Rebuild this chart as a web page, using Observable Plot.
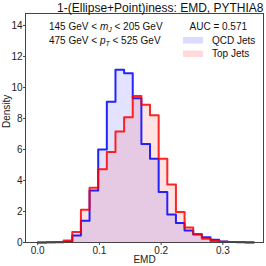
<!DOCTYPE html>
<html><head><meta charset="utf-8">
<script src="https://cdn.jsdelivr.net/npm/d3@7"></script>
<script src="https://cdn.jsdelivr.net/npm/@observablehq/plot@0.6"></script>
<style>body{margin:0;background:#fff}</style>
</head><body><div id="chart"></div>
<script>
const binEdges = [0.000,0.014,0.028,0.042,0.056,0.070,0.084,0.098,0.112,0.126,0.140,0.154,0.168,0.182,0.196,0.210,0.224,0.238,0.252,0.266,0.280,0.294,0.308,0.322,0.336,0.350];
const qcdDensity = [0.00,0.01,0.02,0.05,0.45,1.40,3.35,6.00,9.08,11.14,10.92,9.30,6.35,5.40,3.25,1.80,1.25,0.77,0.52,0.34,0.17,0.07,0.03,0.01,0.00];
const topDensity = [0.00,0.01,0.04,0.13,0.67,2.11,3.53,4.72,5.83,7.16,8.08,9.45,8.88,8.20,5.40,3.74,1.96,0.97,0.55,0.24,0.10,0.05,0.04,0.03,0.02];
const xTicks = [0.0,0.1,0.2,0.3];
const yTicks = [0,2,4,6,8,10,12,14];
const titleText = "1-(Ellipse+Point)iness: EMD, PYTHIA8";
const xLabel = "EMD";
const yLabel = "Density";
const seriesNames = ["QCD Jets","Top Jets"];
const seriesColors = ["#0000ff","#ff0000"];
const aucText = "AUC = 0.571";
const massCut = ["145 GeV < ", "m", "J", " < 205 GeV"];
const ptCut = ["475 GeV < ", "p", "T", " < 525 GeV"];

function stepPoints(vals){
  const pts=[{x:binEdges[0],y:0}];
  vals.forEach((v,i)=>pts.push({x:binEdges[i],y:v}));
  pts.push({x:binEdges[vals.length],y:0});
  return pts;
}
const qcdPts = stepPoints(qcdDensity);
const topPts = stepPoints(topDensity);
const FA = 0.11;
const font = "'Liberation Sans', Arial, sans-serif";

const ML=25, MR=3, MT=13, MB=24;
const svg = Plot.plot({
  width:266, height:266, marginLeft:ML, marginRight:MR, marginTop:MT, marginBottom:MB,
  style:{fontFamily:font, fontSize:"10px", color:"#222", background:"#fff"},
  x:{domain:[-0.0198,0.3659]},
  y:{domain:[0,14.77]},
  marks:[
    Plot.areaY(qcdPts,{x:"x",y:"y",curve:"step-after",fill:seriesColors[0],fillOpacity:FA}),
    Plot.areaY(topPts,{x:"x",y:"y",curve:"step-after",fill:seriesColors[1],fillOpacity:FA}),
    Plot.line(qcdPts,{x:"x",y:"y",curve:"step-after",stroke:seriesColors[0],strokeWidth:2,strokeOpacity:0.85}),
    Plot.line(topPts,{x:"x",y:"y",curve:"step-after",stroke:seriesColors[1],strokeWidth:2,strokeOpacity:0.85}),
    Plot.frame({stroke:"#444"}),
    Plot.axisX({ticks:xTicks,tickFormat:d3.format(".1f"),tickSize:3,tickPadding:1,label:null,stroke:"#444"}),
    Plot.axisY({ticks:yTicks,tickSize:2,tickPadding:1,label:null,stroke:"#444"}),
    Plot.text([0],{frameAnchor:"top-right",text:()=>titleText,textAnchor:"end",lineAnchor:"bottom",dy:-1.5,fontSize:12,fill:"#111"}),
    Plot.text([0],{frameAnchor:"bottom",text:()=>xLabel,lineAnchor:"bottom",dy:20,fontSize:10,fill:"#222"}),
    Plot.text([0],{frameAnchor:"left",text:()=>yLabel,rotate:-90,lineAnchor:"top",dx:-23,fontSize:10,fill:"#222"}),
    Plot.text([0],{frameAnchor:"top-left",text:()=>aucText,textAnchor:"start",lineAnchor:"bottom",dx:164,dy:16.5,fontSize:10,fill:"#111"})
  ]
});

const root = d3.select(svg);
const g = root.append("g").attr("font-family",font).attr("font-size",10).attr("fill","#111").attr("text-anchor","start");
function rich(parts,x,y){
  const t=g.append("text").attr("x",x).attr("y",y);
  t.append("tspan").text(parts[0]);
  t.append("tspan").attr("font-style","italic").text(parts[1]);
  t.append("tspan").attr("font-style","italic").attr("font-size",7).attr("dy",2.5).text(parts[2]);
  t.append("tspan").attr("dy",-2.5).text(parts[3]);
}
rich(massCut, ML+24, MT+16.5);
rich(ptCut, ML+24, MT+30.5);
const leg = root.append("g").attr("font-family",font).attr("font-size",10).attr("fill","#111").attr("text-anchor","start");
seriesNames.forEach((name,i)=>{
  const y0 = MT+24 + i*13.5;
  leg.append("rect").attr("x",ML+158).attr("y",y0).attr("width",20).attr("height",6.5)
     .attr("fill",seriesColors[i]).attr("fill-opacity",FA+0.03);
  leg.append("text").attr("x",ML+187).attr("y",MT+30.5+i*13.5).text(name);
});
document.getElementById("chart").appendChild(svg);
</script>
</body></html>
